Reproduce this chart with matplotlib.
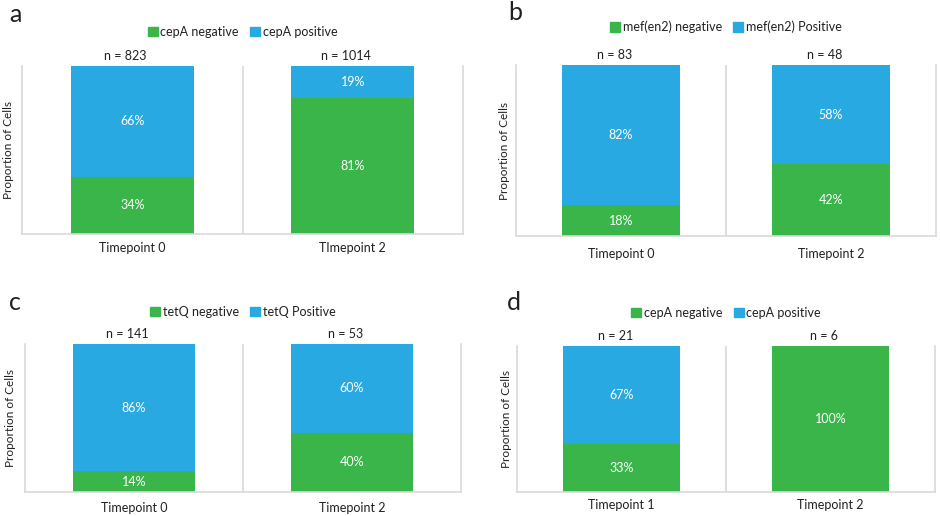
import matplotlib
matplotlib.use("Agg")
import matplotlib.pyplot as plt
from matplotlib.patches import Patch

plt.rcParams["font.family"] = ["Lato", "DejaVu Sans"]

# %%
# data, one list per panel
panel_letters = ["a", "b", "c", "d"]
legend_neg = ["cepA negative", "mef(en2) negative", "tetQ negative", "cepA negative"]
legend_pos = ["cepA positive", "mef(en2) Positive", "tetQ Positive", "cepA positive"]
timepoints_a = ["Timepoint 0", "TImepoint 2"]
timepoints_b = ["Timepoint 0", "Timepoint 2"]
timepoints_c = ["Timepoint 0", "Timepoint 2"]
timepoints_d = ["Timepoint 1", "Timepoint 2"]
neg_a = [34, 81]
pos_a = [66, 19]
neg_b = [18, 42]
pos_b = [82, 58]
neg_c = [14, 40]
pos_c = [86, 60]
neg_d = [33, 100]
pos_d = [67, 0]
n_a = [823, 1014]
n_b = [83, 48]
n_c = [141, 53]
n_d = [21, 6]

panels = [
    (timepoints_a, neg_a, pos_a, n_a),
    (timepoints_b, neg_b, pos_b, n_b),
    (timepoints_c, neg_c, pos_c, n_c),
    (timepoints_d, neg_d, pos_d, n_d),
]

green = "#39B54A"
blue = "#29A9E1"
grid_col = "#D9D9D9"
text_col = "#231F20"

W, H = 940, 516
# axes boxes in pixels: left, right, top, bottom
boxes = [(22, 463, 66, 234), (516, 936, 65, 236), (25, 461, 344, 492), (517, 935, 346, 492)]
legend_gap = [34, 38, 32, 33]
xlabel_pad = [6, 9, 7, 5]
letter_pos = [(9, 14), (508, 13), (9, 302), (507, 302)]
ylabel_x = [9, 505, 11, 507]

fig = plt.figure(figsize=(W / 100, H / 100), dpi=100)

for k, (labels, neg, pos, ns) in enumerate(panels):
    l, r, t, b = boxes[k]
    ax = fig.add_axes([l / W, 1 - b / H, (r - l) / W, (b - t) / H])
    x = list(range(len(labels)))
    ax.bar(x, neg, width=0.56, color=green, zorder=2)
    ax.bar(x, pos, width=0.56, bottom=neg, color=blue, zorder=2)
    for i in x:
        if neg[i] > 0:
            ax.text(i, neg[i] / 2, f"{neg[i]}%", ha="center", va="center",
                    color="white", fontsize=9)
        if pos[i] > 0:
            ax.text(i, neg[i] + pos[i] / 2, f"{pos[i]}%", ha="center", va="center",
                    color="white", fontsize=9)
        ax.annotate(f"n = {ns[i]}", xy=(i - 0.03, 1), xycoords=("data", "axes fraction"),
                    xytext=(0, 3), textcoords="offset points", ha="center", va="bottom",
                    fontsize=9, color=text_col)
    ax.set_xlim(-0.5, len(labels) - 0.5)
    ax.set_ylim(0, 100)
    ax.set_xticks(x)
    ax.set_xticklabels(labels, fontsize=9, color=text_col)
    ax.tick_params(axis="x", length=0, pad=xlabel_pad[k])
    ax.set_yticks([])
    for s in ["left", "right", "bottom"]:
        ax.spines[s].set_color(grid_col)
        ax.spines[s].set_linewidth(1.2)
    ax.spines["top"].set_visible(False)
    for i in x[:-1]:
        ax.axvline(i + 0.5, color=grid_col, lw=1.2, zorder=1)

    fig.text(ylabel_x[k] / W, 1 - (t + b) / 2 / H, "Proportion of Cells", rotation=90,
             ha="center", va="center", fontsize=8.5, color=text_col)

    handles = [Patch(color=green), Patch(color=blue)]
    ax.legend(handles, [legend_neg[k], legend_pos[k]], loc="center",
              bbox_to_anchor=(0.5, 1 + legend_gap[k] / (b - t)), ncol=2, frameon=False,
              fontsize=9, handlelength=0.8, handleheight=0.8, handletextpad=0.2,
              columnspacing=0.9, labelcolor=text_col)

    lx, ly = letter_pos[k]
    fig.text(lx / W, 1 - ly / H, panel_letters[k], fontsize=18, ha="left", va="center",
             color=text_col)

fig.savefig("out.png", dpi=100)
